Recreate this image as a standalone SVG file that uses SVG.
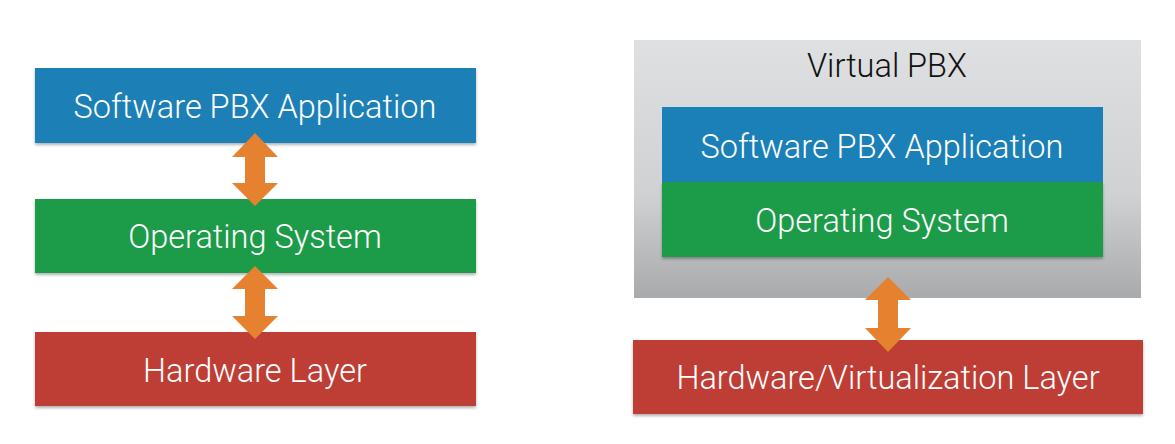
<svg xmlns="http://www.w3.org/2000/svg" width="1175" height="444" viewBox="0 0 1175 444">
<defs>
<linearGradient id="gray" x1="0" y1="0" x2="0" y2="1">
<stop offset="0" stop-color="#dfe0e1"/>
<stop offset="0.6" stop-color="#cfd1d3"/>
<stop offset="1" stop-color="#a8aaac"/>
</linearGradient>
<filter id="sh" x="-5%" y="-10%" width="110%" height="130%">
<feDropShadow dx="0" dy="2" stdDeviation="1.5" flood-color="#000" flood-opacity="0.3"/>
</filter>
</defs>
<style>
.blue{fill:#1b80b7}
.green{fill:#1a9b4a}
.red{fill:#be3c35}
.arrow{fill:#e5812f}
.lbl{font-family:Roboto,"Liberation Sans",sans-serif;font-weight:300;font-size:32.5px;fill:#fff;text-anchor:middle}
.dark{fill:#111}
</style>
<rect width="1175" height="444" fill="#fff"/>

<g id="left-app">
<rect class="blue" x="35" y="68" width="441" height="75" filter="url(#sh)"/>
<text class="lbl" x="255" y="118">Software PBX Application</text>
</g>
<g id="left-os">
<rect class="green" x="35" y="199" width="441" height="74" filter="url(#sh)"/>
<text class="lbl" x="255" y="248">Operating System</text>
</g>
<g id="left-hw">
<rect class="red" x="35" y="332" width="441" height="74" filter="url(#sh)"/>
<text class="lbl" x="255" y="382">Hardware Layer</text>
</g>

<g id="virtual-pbx">
<rect x="634" y="40" width="507" height="258" fill="url(#gray)"/>
<text class="lbl dark" x="887" y="77">Virtual PBX</text>
</g>
<g id="right-app">
<rect class="blue" x="662" y="107" width="441" height="75"/>
<text class="lbl" x="882" y="158">Software PBX Application</text>
</g>
<g id="right-os">
<rect class="green" x="662" y="182" width="441" height="75" filter="url(#sh)"/>
<text class="lbl" x="882" y="232">Operating System</text>
</g>
<g id="right-hw">
<rect class="red" x="633" y="340" width="510" height="74" filter="url(#sh)"/>
<text class="lbl" x="888" y="389">Hardware/Virtualization Layer</text>
</g>

<g id="connectors">
<path class="arrow" d="M255 133 L278 157 L265 157 L265 183 L278 183 L255 206 L232 183 L245 183 L245 157 L232 157 Z"/>
<path class="arrow" d="M255 266 L278 289 L265 289 L265 316 L278 316 L255 339 L232 316 L245 316 L245 289 L232 289 Z"/>
<path class="arrow" d="M888 277 L911 300 L898 300 L898 328 L911 328 L888 352 L865 328 L878 328 L878 300 L865 300 Z"/>
</g>
</svg>
